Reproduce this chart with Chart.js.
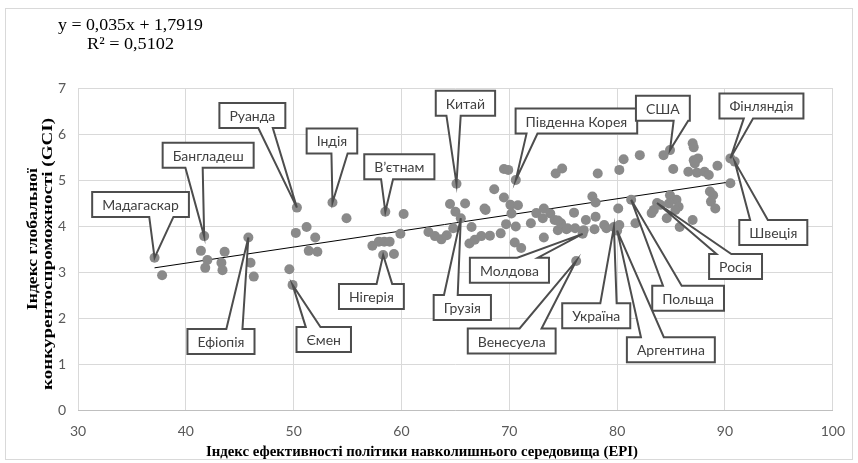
<!DOCTYPE html>
<html>
<head>
<meta charset="utf-8">
<script src="https://cdn.jsdelivr.net/npm/chart.js@4.4.1/dist/chart.umd.min.js"></script>
<style>
  body { margin: 0; background: #fff; }
  canvas { display: block; }
</style>
</head>
<body>
<canvas id="myChart" width="858" height="463"></canvas>
<script>
// EPI (x) and GCI (y) for every country
const epi = [37.1, 37.8, 41.7, 41.4, 43.6, 42.0, 41.8, 43.3, 43.4, 45.8, 46.0, 46.3, 49.6, 49.9, 50.3, 50.2, 51.2, 52.0, 51.4, 52.2,
  53.6, 54.9, 58.5, 60.2, 59.9, 57.3, 57.9, 58.4, 58.9, 58.3, 59.3, 65.1, 64.5, 65.9, 65.0, 65.5, 66.5, 62.5, 63.1, 63.7,
  64.2, 64.8, 66.3, 66.8, 67.4, 68.2, 67.7, 68.6, 69.5, 69.9, 70.6, 69.5, 70.1, 70.8, 70.2, 69.7, 70.6, 69.2, 70.5, 71.1,
  72.5, 73.2, 73.2, 74.3, 74.9, 67.8, 73.8, 74.2, 73.1, 76.0, 72.0, 74.5, 75.3, 74.8, 76.2, 76.8, 77.9, 74.5, 87.0, 87.1,
  84.9, 84.3, 82.1, 80.6, 80.2, 78.2, 85.2, 87.1, 87.5, 87.2, 86.6, 87.4, 88.1, 88.5, 89.3, 90.5, 90.9, 90.5, 88.6, 88.9,
  88.7, 89.1, 85.5, 85.7, 84.9, 84.8, 85.4, 83.7, 84.0, 83.4, 83.2, 84.6, 85.8, 87.0, 81.3, 80.1, 81.7, 79.7, 80.0, 78.8,
  79.0, 77.7, 78.0, 77.1, 78.0, 76.9, 75.4, 76.1, 80.2];
const gci = [3.31, 2.93, 3.78, 3.46, 3.44, 3.26, 3.09, 3.20, 3.04, 3.75, 3.20, 2.90, 3.06, 2.72, 4.40, 3.85, 3.98, 3.75, 3.46, 3.44,
  4.51, 4.17, 4.31, 4.26, 3.83, 3.57, 3.66, 3.66, 3.66, 3.37, 3.39, 4.92, 4.48, 4.49, 4.31, 4.17, 3.98, 3.87, 3.78, 3.71,
  3.80, 3.95, 3.62, 3.70, 3.78, 3.79, 4.38, 4.80, 5.24, 5.22, 5.00, 4.62, 4.46, 4.45, 4.27, 4.04, 3.99, 3.84, 3.64, 3.52,
  4.28, 4.38, 3.75, 5.14, 5.25, 4.35, 4.27, 4.13, 4.17, 4.29, 4.06, 3.91, 3.93, 4.06, 3.24, 3.83, 3.93, 4.12, 5.80, 5.71,
  5.65, 5.54, 5.54, 5.45, 5.22, 5.14, 5.24, 5.43, 5.47, 5.36, 5.18, 5.16, 5.18, 5.11, 5.31, 5.47, 5.40, 4.93, 4.75, 4.67,
  4.53, 4.38, 4.57, 4.42, 4.67, 4.49, 4.35, 4.50, 4.46, 4.35, 4.28, 4.17, 3.98, 4.13, 4.57, 4.38, 4.06, 3.98, 3.90, 4.02,
  3.95, 4.64, 4.51, 4.13, 4.20, 3.91, 3.95, 3.95, 4.02];

// labelled countries: name, EPI, GCI
const countries = ['Мадагаскар', 'Бангладеш', 'Руанда', 'Індія', 'В\u2019єтнам', 'Китай', 'Південна Корея', 'США', 'Фінляндія', 'Швеція',
  'Росія', 'Польща', 'Україна', 'Аргентина', 'Молдова', 'Венесуела', 'Грузія', 'Нігерія', 'Ефіопія', 'Ємен'];
const countryEpi = [37.1, 41.7, 50.3, 53.6, 58.5, 65.1, 70.6, 84.9, 90.5, 90.9, 83.7, 81.3, 79.7, 80.0, 76.8, 76.2, 65.5, 58.3, 45.8, 49.9];
const countryGci = [3.31, 3.78, 4.40, 4.51, 4.31, 4.92, 5.00, 5.65, 5.47, 5.40, 4.50, 4.57, 3.98, 3.90, 3.83, 3.24, 4.17, 3.37, 3.75, 2.72];

// trend line from the fitted equation
const slope = 0.035;
const intercept = 1.7919;
const rSquared = '0,5102';

const xTicks = [30, 40, 50, 60, 70, 80, 90, 100];
const yTicks = [0, 1, 2, 3, 4, 5, 6, 7];

// where each callout box sits (centre in axis units), which side the pointer leaves, and pointer base
const boxX = [35.8, 42.07, 46.17, 53.55, 59.8, 65.93, 76.22, 84.24, 93.38, 94.48, 90.98, 86.58, 78.06, 84.98, 70.01, 70.22, 65.64, 57.21, 43.26, 52.79];
const boxY = [4.47, 5.54, 6.40, 5.85, 5.29, 6.67, 6.28, 6.56, 6.61, 3.86, 3.12, 2.43, 2.05, 1.31, 3.04, 1.50, 2.23, 2.47, 1.49, 1.53];
const boxSide = ['b', 'b', 'b', 'b', 'b', 'b', 'b', 'b', 'b', 't', 't', 't', 't', 't', 't', 't', 't', 't', 't', 't'];
const baseA = [0.59, 0.25, 0.59, 0.49, 0.24, 0.18, 0.09, 0.70, 0.29, 0.16, 0.14, 0.15, 0.56, 0.16, 0.60, 0.59, 0.18, 0.58, 0.58, 0.17];
const baseB = [0.84, 0.44, 0.81, 0.81, 0.41, 0.42, 0.18, 0.97, 0.40, 0.42, 0.42, 0.41, 0.80, 0.42, 0.86, 0.84, 0.42, 0.82, 0.82, 0.44];

const points = epi.map((x, i) => ({ x: x, y: gci[i] }));
const xMin = Math.min(...epi), xMax = Math.max(...epi);
const trend = [{ x: xMin, y: slope * xMin + intercept }, { x: xMax, y: slope * xMax + intercept }];

// draws text squeezed/stretched to a given length (the scanned source text is distorted)
function fitText(c, text, x, y, len) {
  const w = c.measureText(text).width;
  c.save();
  c.translate(x, y);
  c.scale(len / w, 1);
  c.fillText(text, 0, 0);
  c.restore();
}

const calloutPlugin = {
  id: 'callouts',
  beforeDraw(chart) {
    const c = chart.ctx;
    c.save();
    c.strokeStyle = '#d9d9d9';
    c.lineWidth = 1;
    c.strokeRect(5.5, 8.5, 847, 451);
    c.restore();
  },
  afterDraw(chart) {
    const c = chart.ctx;
    const xs = chart.scales.x, ys = chart.scales.y;
    c.save();
    // equation
    c.fillStyle = '#000';
    c.font = '17px "Liberation Serif"';
    c.textBaseline = 'middle';
    c.textAlign = 'left';
    fitText(c, 'y = ' + String(slope).replace('.', ',') + 'x + ' + String(intercept).replace('.', ','), 58, 26, 145);
    fitText(c, 'R\u00b2 = ' + rSquared, 87, 45, 87);

    // axis titles
    c.font = 'bold 14px "Liberation Serif"';
    c.textAlign = 'center';
    fitText(c, 'Індекс ефективності політики навколишнього середовища (EPI)', 422, 452, 432);
    c.save();
    c.rotate(-Math.PI / 2);
    fitText(c, 'Індекс глобальної', -239, 33, 142);
    fitText(c, 'конкурентоспроможності (GCI)', -254, 48, 272);
    c.restore();

    // callouts
    c.font = '14px Lato';
    c.lineWidth = 2;
    c.strokeStyle = '#4d4d4d';
    countries.forEach((name, i) => {
      const w = c.measureText(name).width + 20, h = 25;
      const cx = xs.getPixelForValue(boxX[i]), cy = ys.getPixelForValue(boxY[i]);
      const l = cx - w / 2, r = cx + w / 2, t = cy - h / 2, b = cy + h / 2;
      const px = xs.getPixelForValue(countryEpi[i]), py = ys.getPixelForValue(countryGci[i]);
      const a = l + w * baseA[i], bb = l + w * baseB[i];
      c.beginPath();
      if (boxSide[i] === 'b') {
        c.moveTo(l, t); c.lineTo(r, t); c.lineTo(r, b);
        c.lineTo(bb, b); c.lineTo(px, py); c.lineTo(a, b);
        c.lineTo(l, b);
      } else {
        c.moveTo(l, t); c.lineTo(a, t); c.lineTo(px, py); c.lineTo(bb, t);
        c.lineTo(r, t); c.lineTo(r, b); c.lineTo(l, b);
      }
      c.closePath();
      c.fillStyle = '#fff';
      c.fill();
      c.stroke();
      c.fillStyle = '#404040';
      c.fillText(name, cx, cy + 1);
    });
    c.restore();
  }
};

const ctx = document.getElementById('myChart').getContext('2d');
const chart = new Chart(ctx, {
  type: 'scatter',
  data: {
    datasets: [
      {
        label: 'GCI',
        data: points,
        backgroundColor: '#8a8a8a',
        borderWidth: 0,
        pointRadius: 5
      },
      {
        label: 'Trend',
        type: 'line',
        data: trend,
        borderColor: '#000',
        borderWidth: 1,
        pointRadius: 0,
        fill: false
      }
    ]
  },
  options: {
    responsive: false,
    animation: false,
    devicePixelRatio: 1,
    layout: { padding: { left: 5, top: 88, right: 21, bottom: 0 } },
    plugins: {
      legend: { display: false },
      tooltip: { enabled: false }
    },
    scales: {
      x: {
        type: 'linear',
        min: xTicks[0],
        max: xTicks[xTicks.length - 1],
        afterBuildTicks: s => { s.ticks = xTicks.map(v => ({ value: v })); },
        afterFit: s => { s.height = 53; },
        ticks: { color: '#595959', font: { family: 'Lato', size: 14 }, padding: 13 },
        grid: { color: '#d9d9d9', drawTicks: false },
        border: { color: '#bfbfbf' }
      },
      y: {
        min: yTicks[0],
        max: yTicks[yTicks.length - 1],
        afterBuildTicks: s => { s.ticks = yTicks.map(v => ({ value: v })); },
        afterFit: s => { s.width = 73; },
        ticks: { color: '#595959', font: { family: 'Lato', size: 14 }, padding: 12 },
        grid: { color: '#d9d9d9', drawTicks: false },
        border: { display: false }
      }
    }
  },
  plugins: [calloutPlugin]
});
</script>
</body>
</html>
